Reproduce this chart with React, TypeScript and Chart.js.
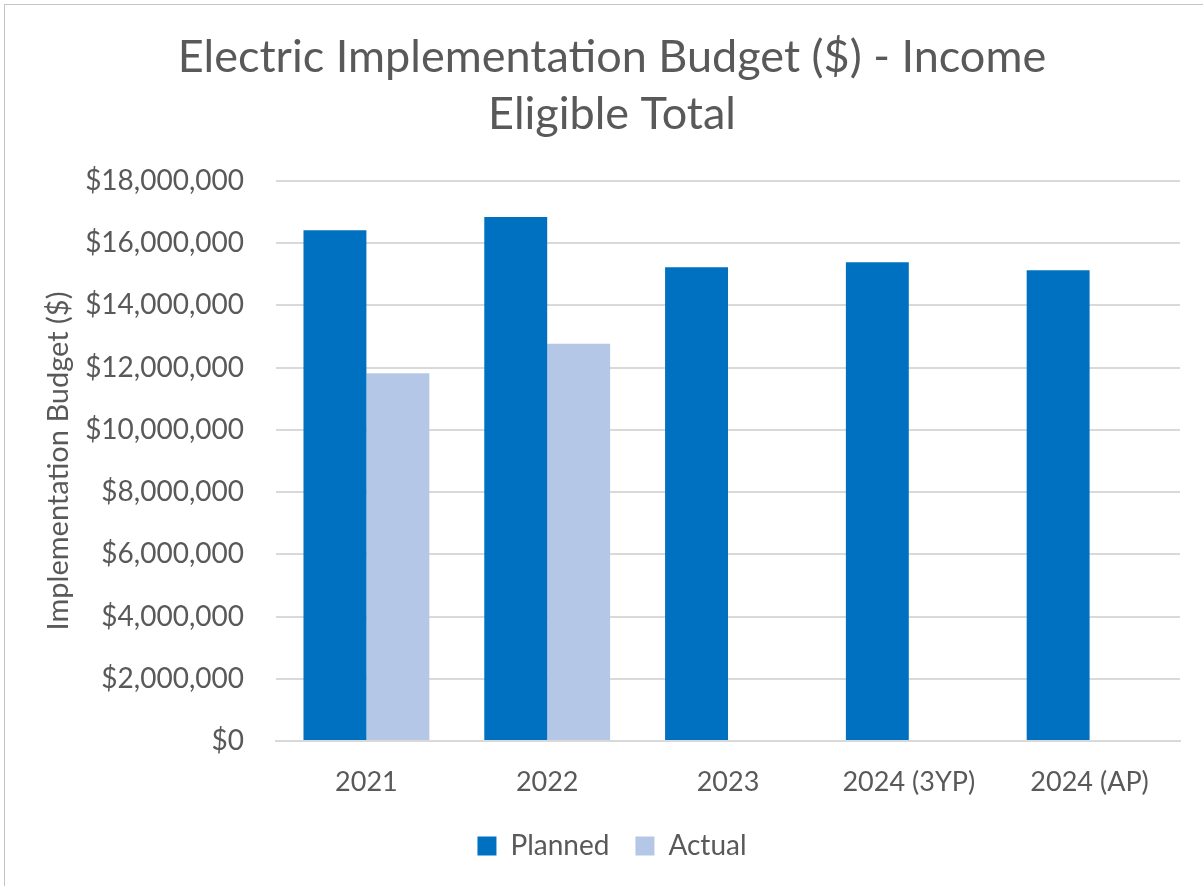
import React, { useEffect, useRef } from "react";
import { Chart, registerables } from "chart.js";

Chart.register(...registerables);

const categories = ["2021", "2022", "2023", "2024 (3YP)", "2024 (AP)"];
const plannedValues = [16420000, 16840000, 15230000, 15390000, 15130000];
const actualValues = [11820000, 12770000, null, null, null];
const titleLines = ["Electric Implementation Budget ($) - Income", "Eligible Total"];
const yAxisTitle = "Implementation Budget ($)";

const FONT = "Lato, 'Open Sans', sans-serif";
const GRAY = "#595959";

export default function App() {
  const ref = useRef<HTMLCanvasElement | null>(null);

  useEffect(() => {
    if (!ref.current) return;
    const chart = new Chart(ref.current, {
      type: "bar",
      data: {
        labels: categories,
        datasets: [
          {
            label: "Planned",
            data: plannedValues,
            backgroundColor: "#0070C0",
            categoryPercentage: 0.696,
            barPercentage: 1,
          },
          {
            label: "Actual",
            data: actualValues as any,
            backgroundColor: "#B4C7E7",
            categoryPercentage: 0.696,
            barPercentage: 1,
          },
        ],
      },
      options: {
        responsive: false,
        animation: false,
        layout: { padding: { left: 44, right: 23, top: 4, bottom: 16 } },
        plugins: {
          title: {
            display: true,
            text: titleLines,
            color: GRAY,
            font: { family: FONT, size: 45, weight: "normal", lineHeight: 1.267 },
            padding: { top: 25, bottom: 38 },
          },
          legend: {
            position: "bottom",
            labels: {
              color: GRAY,
              font: { family: FONT, size: 28 },
              boxWidth: 19,
              boxHeight: 19,
              padding: 26,
            },
          },
          tooltip: { enabled: false },
        },
        scales: {
          x: {
            grid: { display: false, drawTicks: false },
            border: { display: true, color: "#d9d9d9", width: 2 },
            ticks: { color: GRAY, font: { family: FONT, size: 27 }, padding: 25 },
            afterFit: (scale: any) => {
              scale.height = 65;
            },
          },
          y: {
            min: 0,
            max: 18000000,
            grid: { color: "#d9d9d9", lineWidth: 2, drawTicks: false },
            border: { display: false },
            ticks: {
              stepSize: 2000000,
              color: GRAY,
              font: { family: FONT, size: 28 },
              padding: 32,
              callback: (v: any) => "$" + Number(v).toLocaleString("en-US"),
            },
            title: {
              display: true,
              text: yAxisTitle,
              color: GRAY,
              font: { family: FONT, size: 29 },
              padding: { top: -3, bottom: 0 },
            },
            afterFit: (scale: any) => {
              scale.width = 232;
            },
          },
        },
      },
    });
    return () => chart.destroy();
  }, []);

  return (
    <div style={{ position: "absolute", left: 0, top: 0, width: 1203, height: 886, background: "#fff" }}>
      <div
        style={{
          position: "absolute",
          left: 4,
          top: 4,
          width: 1199,
          height: 882,
          borderTop: "1px solid #c4c4c4",
          borderLeft: "1px solid #c4c4c4",
          boxSizing: "border-box",
        }}
      />
      <canvas ref={ref} width={1203} height={886} style={{ position: "absolute", left: 0, top: 0 }} />
    </div>
  );
}
